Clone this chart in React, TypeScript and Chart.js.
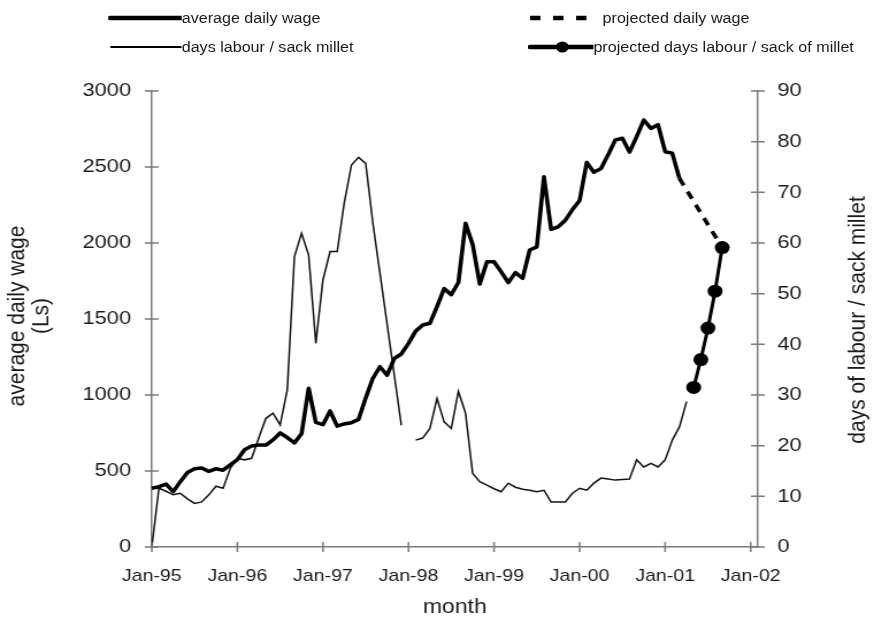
import React, { useEffect, useRef } from 'react';
import { Chart, registerables } from 'chart.js';

Chart.register(...registerables);

// ---------- data ----------
const MONTH_NAMES = ['Jan', 'Feb', 'Mar', 'Apr', 'May', 'Jun', 'Jul', 'Aug', 'Sep', 'Oct', 'Nov', 'Dec'];
// months Jan-95 .. Feb-02
const MONTHS: string[] = [];
for (let i = 0; i < 86; i++) {
  const yr = (95 + Math.floor(i / 12)) % 100;
  MONTHS.push(`${MONTH_NAMES[i % 12]}-${String(yr).padStart(2, '0')}`);
}

// average daily wage (Ls), Jan-95 .. Mar-01
const WAGE = [
  386, 397, 414, 364, 430, 490, 515, 520, 498, 515,
  505, 540, 575, 640, 665, 671, 671, 705, 750, 720,
  685, 745, 1044, 820, 805, 895, 795, 810, 818, 840,
  980, 1110, 1186, 1130, 1240, 1270, 1340, 1420, 1460, 1472,
  1581, 1700, 1660, 1740, 2130, 1990, 1730, 1877, 1877, 1810,
  1740, 1805, 1768, 1954, 1975, 2436, 2090, 2107, 2150, 2220,
  2280, 2530, 2465, 2490, 2580, 2678, 2689, 2598, 2700, 2809,
  2754, 2778, 2601, 2590, 2425,
];

// days labour / sack millet, Jan-95 .. Apr-01 (gap Jan-98)
const DAYS = [
  0, 11.6, 11.0, 10.3, 10.6, 9.5, 8.6, 8.9, 10.3, 12.0,
  11.6, 15.5, 17.5, 17.2, 17.5, 21.5, 25.4, 26.4, 24.1, 31,
  57.3, 61.9, 57.6, 40.2, 52.7, 58.3, 58.3, 68, 75.4, 76.9,
  75.7, 64, 54, 44, 34, 24, null, 21.1, 21.5, 23.4,
  29.3, 24.7, 23.4, 30.7, 26.4, 14.5, 12.9, 12.2, 11.5, 10.9,
  12.6, 11.8, 11.4, 11.2, 10.9, 11.2, 8.9, 8.9, 8.9, 10.6,
  11.6, 11.2, 12.6, 13.6, 13.4, 13.2, 13.3, 13.4, 17.2, 15.8,
  16.5, 15.8, 17.2, 21.1, 23.7, 28.7,
];

const PROJ_WAGE_MONTHS = ['Mar-01', 'Sep-01'];
const PROJ_WAGE = [2425, 1970];

const PROJ_DAYS_MONTHS = ['May-01', 'Jun-01', 'Jul-01', 'Aug-01', 'Sep-01'];
const PROJ_DAYS = [31.5, 37.0, 43.2, 50.5, 59.1];

const WAGE_TICKS = [0, 500, 1000, 1500, 2000, 2500, 3000];
const DAYS_TICKS = [0, 10, 20, 30, 40, 50, 60, 70, 80, 90];

const SERIES_NAMES = [
  'average daily wage',
  'days labour / sack millet',
  'projected daily wage',
  'projected days labour / sack of millet',
];
const LEFT_TITLE = ['average daily wage', '(Ls)'];
const RIGHT_TITLE = 'days of labour / sack millet';
const X_TITLE = 'month';

// ---------- style ----------
const STRETCH = 1.15;
const W = 758;
const H = 622;
const FONT = "'Liberation Sans', Arial, Helvetica, sans-serif";
const TEXT = '#1a1a1a';
const AXIS = '#7a7a7a';
const INK = '#000000';

function align(months: string[], values: number[]) {
  const out: (number | null)[] = MONTHS.map(() => null);
  months.forEach((m, i) => {
    const idx = MONTHS.indexOf(m);
    if (idx >= 0) out[idx] = values[i];
  });
  return out;
}

const decorPlugin = {
  id: 'decor',
  afterDraw(chart: any) {
    const ctx = chart.ctx;
    const area = chart.chartArea;
    const xs = chart.scales.x;
    const ys = chart.scales.y;
    const y1 = chart.scales.y1;
    ctx.save();
    ctx.strokeStyle = AXIS;
    ctx.lineWidth = 1.5;
    ctx.beginPath();
    xs.ticks.forEach((t: any, i: number) => {
      if (t.label === null || t.label === undefined || t.label === '') return;
      const px = xs.getPixelForTick(i);
      ctx.moveTo(px, area.bottom - 5);
      ctx.lineTo(px, area.bottom + 5);
    });
    ys.ticks.forEach((_t: any, i: number) => {
      const py = ys.getPixelForTick(i);
      ctx.moveTo(area.left - 6, py);
      ctx.lineTo(area.left + 6, py);
    });
    y1.ticks.forEach((_t: any, i: number) => {
      const py = y1.getPixelForTick(i);
      ctx.moveTo(area.right - 6, py);
      ctx.lineTo(area.right + 6, py);
    });
    ctx.stroke();

    // vertical axis titles
    const cy = (area.top + area.bottom) / 2 - 3;
    ctx.fillStyle = TEXT;
    ctx.font = `21px ${FONT}`;
    ctx.textAlign = 'center';
    ctx.textBaseline = 'middle';
    const rot = (txt: string, x: number, y: number) => {
      ctx.save();
      ctx.translate(x, y);
      ctx.rotate(-Math.PI / 2);
      ctx.fillText(txt, 0, 0);
      ctx.restore();
    };
    rot(LEFT_TITLE[0], 15, cy);
    rot(LEFT_TITLE[1], 36, cy);
    rot(RIGHT_TITLE, 746, cy + 4);
    ctx.restore();
  },
};

function LegendSample({ kind }: { kind: number }) {
  if (kind === 0) {
    return (
      <svg width={64} height={18} style={{ display: 'block' }}>
        <line x1={2} y1={9} x2={64} y2={9} stroke={INK} strokeWidth={4.5} strokeLinecap="round" />
      </svg>
    );
  }
  if (kind === 1) {
    return (
      <svg width={64} height={18} style={{ display: 'block' }}>
        <line x1={2} y1={9} x2={64} y2={9} stroke={INK} strokeWidth={2} />
      </svg>
    );
  }
  if (kind === 2) {
    return (
      <svg width={54} height={18} style={{ display: 'block' }}>
        <line x1={2} y1={9} x2={52} y2={9} stroke={INK} strokeWidth={4.5} strokeDasharray="9 11" />
      </svg>
    );
  }
  return (
    <svg width={57} height={18} style={{ display: 'block' }}>
      <line x1={2} y1={9} x2={57} y2={9} stroke={INK} strokeWidth={4.5} strokeLinecap="round" />
      <circle cx={30} cy={9} r={5.5} fill={INK} />
    </svg>
  );
}

const LEGEND_POS = [
  { x: 94, y: 18, gap: 0 },
  { x: 94, y: 47, gap: 0 },
  { x: 459, y: 18, gap: 11 },
  { x: 459, y: 47, gap: 0 },
];

export default function App() {
  const ref = useRef<HTMLCanvasElement>(null);

  useEffect(() => {
    document.body.style.margin = '0';
    const canvas = ref.current;
    if (!canvas) return;

    const chart = new Chart(canvas, {
      type: 'line',
      data: {
        labels: MONTHS,
        datasets: [
          {
            label: SERIES_NAMES[3],
            data: align(PROJ_DAYS_MONTHS, PROJ_DAYS),
            yAxisID: 'y1',
            borderColor: INK,
            backgroundColor: INK,
            borderWidth: 3,
            pointRadius: 6.5,
            pointBorderWidth: 0,
            pointBackgroundColor: INK,
            tension: 0,
            spanGaps: true,
            clip: false,
          },
          {
            label: SERIES_NAMES[0],
            data: WAGE,
            yAxisID: 'y',
            borderColor: INK,
            borderWidth: 3.6,
            pointRadius: 0,
            tension: 0,
            borderJoinStyle: 'round',
            clip: false,
          },
          {
            label: SERIES_NAMES[2],
            data: align(PROJ_WAGE_MONTHS, PROJ_WAGE),
            yAxisID: 'y',
            borderColor: INK,
            borderWidth: 3.6,
            borderDash: [8, 7],
            pointRadius: 0,
            tension: 0,
            spanGaps: true,
            clip: false,
          },
          {
            label: SERIES_NAMES[1],
            data: DAYS,
            yAxisID: 'y1',
            borderColor: '#111111',
            borderWidth: 1.5,
            pointRadius: 0,
            tension: 0,
            spanGaps: false,
            clip: false,
          },
        ],
      },
      options: {
        responsive: false,
        animation: false,
        devicePixelRatio: 1,
        layout: { padding: { top: 91, left: 0, right: 0, bottom: 0 } },
        plugins: {
          legend: { display: false },
          tooltip: { enabled: false },
        },
        scales: {
          x: {
            type: 'category',
            offset: false,
            grid: { display: false, drawTicks: false },
            border: { display: true, color: AXIS, width: 1.5 },
            ticks: {
              autoSkip: false,
              maxRotation: 0,
              minRotation: 0,
              padding: 19,
              color: TEXT,
              font: { family: FONT, size: 17 },
              callback: (_v: any, i: number) => (MONTHS[i].startsWith('Jan') ? MONTHS[i] : null),
            },
            title: {
              display: true,
              text: X_TITLE,
              color: TEXT,
              font: { family: FONT, size: 20 },
              padding: { top: 0, bottom: 3 },
            },
            afterFit: (s: any) => {
              s.height = 75;
            },
          },
          y: {
            position: 'left',
            min: 0,
            max: 3000,
            grid: { display: false, drawTicks: false },
            border: { display: true, color: AXIS, width: 1.5 },
            ticks: {
              stepSize: 500,
              padding: 18,
              color: TEXT,
              font: { family: FONT, size: 19 },
              callback: (v: any) => (WAGE_TICKS.includes(Number(v)) ? String(v) : null),
            },
            afterFit: (s: any) => {
              s.width = 132;
            },
          },
          y1: {
            position: 'right',
            min: 0,
            max: 90,
            grid: { display: false, drawTicks: false },
            border: { display: true, color: AXIS, width: 1.5 },
            ticks: {
              stepSize: 10,
              padding: 17,
              color: TEXT,
              font: { family: FONT, size: 19 },
              callback: (v: any) => (DAYS_TICKS.includes(Number(v)) ? String(v) : null),
            },
            afterFit: (s: any) => {
              s.width = 99;
            },
          },
        },
      },
      plugins: [decorPlugin],
    } as any);

    return () => chart.destroy();
  }, []);

  return (
    <div style={{ position: 'relative', width: 872, height: 622, overflow: 'hidden', background: '#fff' }}>
      <div
        style={{
          position: 'absolute',
          left: 0,
          top: 0,
          width: W,
          height: H,
          transform: `scaleX(${STRETCH})`,
          transformOrigin: '0 0',
        }}
      >
        <canvas ref={ref} width={W} height={H} style={{ display: 'block', width: W, height: H }} />
        {SERIES_NAMES.map((name, i) => (
          <div
            key={name}
            style={{
              position: 'absolute',
              left: LEGEND_POS[i].x,
              top: LEGEND_POS[i].y - 9,
              height: 18,
              display: 'flex',
              alignItems: 'center',
              whiteSpace: 'nowrap',
              fontFamily: FONT,
              fontSize: 14,
              color: TEXT,
              lineHeight: '18px',
            }}
          >
            <LegendSample kind={i} />
            <span style={{ marginLeft: LEGEND_POS[i].gap }}>{name}</span>
          </div>
        ))}
      </div>
    </div>
  );
}
